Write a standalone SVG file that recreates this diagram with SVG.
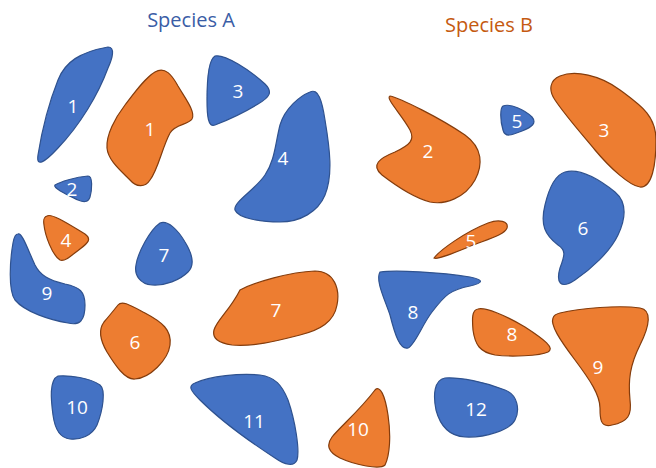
<svg xmlns="http://www.w3.org/2000/svg" width="656" height="468" viewBox="0 0 656 468">
<style>
.b{fill:#4472C4;stroke:#2F528F;stroke-width:1.2}
.o{fill:#ED7D31;stroke:#843C0C;stroke-width:1.2}
.l{font-family:"Open Sans","Liberation Sans",sans-serif;font-size:19px;fill:#fff;text-anchor:middle}
.t{font-family:"Open Sans","Liberation Sans",sans-serif;font-size:20px;text-anchor:middle}
</style>
<rect width="656" height="468" fill="#fff"/>
<text class="t" x="191" y="27" fill="#3A5DA6">Species A</text>
<text class="t" x="489" y="32" fill="#C55A11">Species B</text>
<g id="a1"><path class="b" d="M108,47 C115,47 113,57 108,68 C98,95 80,125 58,148 C45,162 36,168 38,155 C42,130 50,100 58,80 C65,62 80,52 108,47 Z"/><text class="l" x="73" y="113">1</text></g>
<g id="b1"><path class="o" d="M155,72 C165,66 172,75 178,86 C185,98 196,112 192,119 C188,125 175,124 170,133 C162,148 158,170 150,180 C145,188 136,187 130,180 C120,170 108,160 107,148 C106,135 115,118 125,105 C135,92 145,78 155,72 Z"/><text class="l" x="150" y="136">1</text></g>
<g id="a3"><path class="b" d="M215,56 C225,54 250,70 265,84 C273,92 270,97 258,104 C245,112 228,120 215,125 C208,128 207,115 207,100 C207,80 208,60 215,56 Z"/><text class="l" x="238" y="98">3</text></g>
<g id="a4"><path class="b" d="M310,92 C318,88 322,100 325,120 C330,150 333,175 325,195 C318,212 300,222 280,222 C260,222 238,218 235,210 C233,202 255,190 265,175 C275,160 275,145 280,125 C285,108 300,96 310,92 Z"/><text class="l" x="283" y="165">4</text></g>
<g id="a2"><path class="b" d="M55,185 C60,182 75,177 88,176 C93,176 92,190 90,197 C88,203 83,202 78,200 C70,196 52,188 55,185 Z"/><text class="l" x="72" y="196">2</text></g>
<g id="b4"><path class="o" d="M47,216 C52,213 70,225 85,234 C92,239 88,243 80,249 C72,255 65,262 60,260 C52,255 45,235 44,225 C43,219 44,217 47,216 Z"/><text class="l" x="66" y="247">4</text></g>
<g id="a7"><path class="b" d="M160,223 C168,220 178,230 185,242 C193,255 195,265 188,272 C180,280 165,286 152,285 C140,284 134,275 136,265 C138,252 150,230 160,223 Z"/><text class="l" x="164" y="262">7</text></g>
<g id="a9"><path class="b" d="M18,234 C22,232 28,250 35,265 C40,275 48,280 65,284 C80,287 85,292 85,305 C85,320 80,326 68,323 C50,320 25,312 15,300 C8,290 10,260 13,243 C14,237 16,234 18,234 Z"/><text class="l" x="47" y="300">9</text></g>
<g id="b6"><path class="o" d="M118,305 C122,300 130,305 145,313 C162,322 172,330 170,345 C168,360 150,378 135,379 C125,380 115,365 107,352 C100,340 98,330 104,322 C110,315 114,310 118,305 Z"/><text class="l" x="135" y="349">6</text></g>
<g id="b7"><path class="o" d="M240,290 C255,282 290,272 315,271 C335,271 340,290 337,305 C334,322 320,330 300,335 C280,340 255,347 232,345 C218,343 212,338 214,330 C217,320 230,310 240,290 Z"/><text class="l" x="276" y="317">7</text></g>
<g id="a10"><path class="b" d="M58,376 C70,375 90,378 100,385 C106,390 103,410 97,425 C92,436 80,440 70,439 C60,438 55,430 53,415 C51,400 49,380 58,376 Z"/><text class="l" x="77" y="414">10</text></g>
<g id="a11"><path class="b" d="M195,383 C210,376 240,373 260,375 C275,377 282,385 288,400 C295,420 300,450 297,460 C294,467 285,465 275,458 C255,445 225,425 200,400 C190,390 188,386 195,383 Z"/><text class="l" x="254" y="428">11</text></g>
<g id="b10"><path class="o" d="M375,390 C380,385 385,395 388,415 C391,435 390,455 385,465 C380,470 355,465 340,458 C328,452 326,445 332,437 C340,427 360,410 375,390 Z"/><text class="l" x="358" y="436">10</text></g>
<g id="b2"><path class="o" d="M390,96 C400,98 440,118 465,135 C483,148 483,165 475,180 C465,198 445,205 430,202 C415,198 395,185 382,175 C370,165 380,158 395,152 C410,145 415,140 410,130 C402,115 385,98 390,96 Z"/><text class="l" x="428" y="158">2</text></g>
<g id="a5"><path class="b" d="M503,106 C510,103 525,110 532,117 C537,123 532,127 522,131 C512,135 505,138 503,130 C500,120 500,108 503,106 Z"/><text class="l" x="517" y="128">5</text></g>
<g id="b3"><path class="o" d="M560,76 C575,70 600,75 620,90 C640,105 656,115 656,140 C656,165 652,188 640,187 C630,186 610,168 595,150 C580,132 565,115 555,100 C548,90 550,80 560,76 Z"/><text class="l" x="604" y="137">3</text></g>
<g id="a6"><path class="b" d="M565,172 C580,168 600,180 615,192 C628,203 625,220 618,235 C610,252 590,270 575,280 C560,290 556,282 560,268 C565,255 566,250 558,245 C545,235 540,225 545,205 C549,188 555,175 565,172 Z"/><text class="l" x="583" y="235">6</text></g>
<g id="b5"><path class="o" d="M434,258 C440,250 465,232 488,223 C499,219 509,221 507,228 C505,234 492,238 476,244 C456,252 438,260 434,258 Z"/><text class="l" x="471" y="248">5</text></g>
<g id="a8"><path class="b" d="M380,272 C395,270 440,272 470,277 C485,280 483,283 470,286 C450,290 445,295 432,312 C422,325 415,345 408,348 C400,350 395,335 390,315 C385,300 375,280 380,272 Z"/><text class="l" x="413" y="319">8</text></g>
<g id="b8"><path class="o" d="M478,309 C485,307 505,315 525,327 C545,340 555,348 548,352 C540,356 510,357 495,355 C480,352 475,345 473,330 C472,318 472,310 478,309 Z"/><text class="l" x="512" y="341">8</text></g>
<g id="b9"><path class="o" d="M560,313 C580,308 620,305 640,308 C652,310 650,325 640,345 C630,365 628,380 630,400 C632,415 628,422 612,425 C600,428 600,418 600,408 C600,395 590,380 575,360 C560,340 550,325 553,318 C554,315 556,314 560,313 Z"/><text class="l" x="598" y="374">9</text></g>
<g id="a12"><path class="b" d="M445,378 C460,377 485,382 505,390 C518,395 520,410 515,420 C510,430 485,438 465,437 C448,436 440,425 436,410 C433,395 434,380 445,378 Z"/><text class="l" x="476" y="416">12</text></g>
</svg>
